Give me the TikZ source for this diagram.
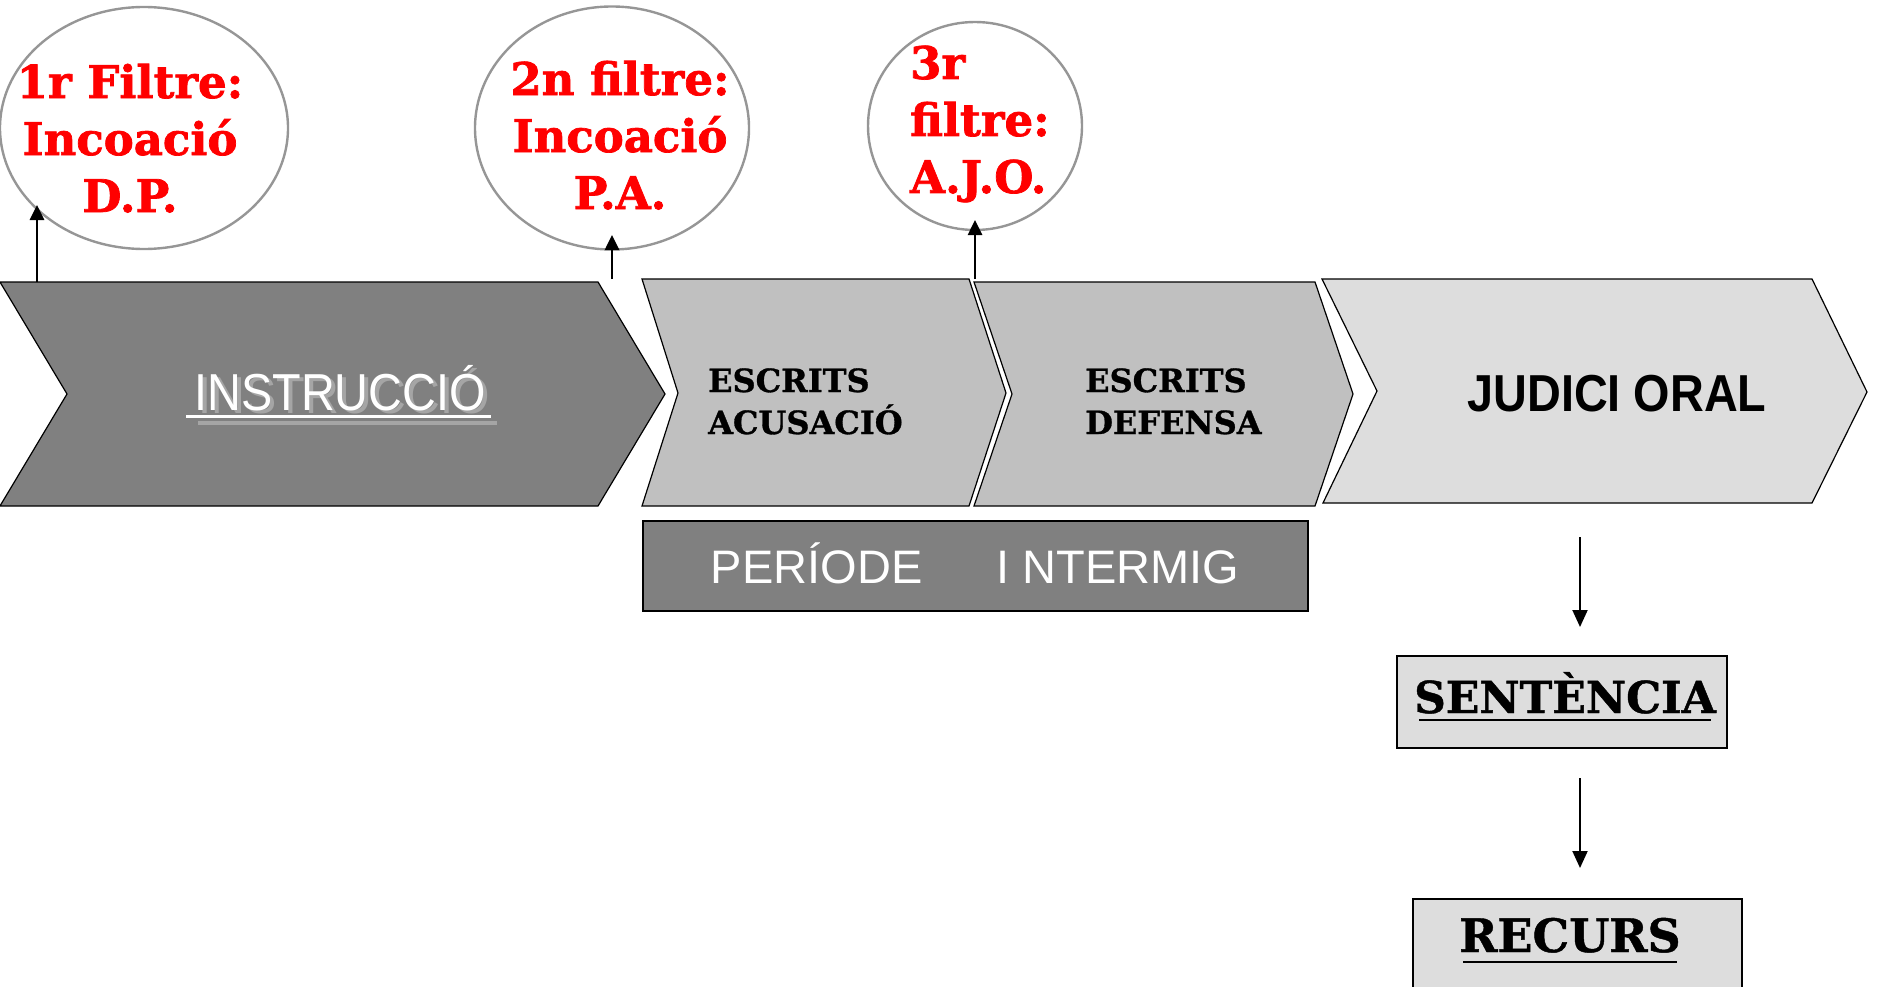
\documentclass[tikz,border=0pt]{standalone}
\usepackage{fontspec}
\usetikzlibrary{shapes.geometric,arrows.meta}
\newfontfamily\slab{DejaVu Serif}
\newfontfamily\slabh[FakeBold=1.6]{DejaVu Serif Bold}
\newfontfamily\slabm[FakeBold=1.0]{DejaVu Serif Bold}
\newfontfamily\sansc[FakeStretch=0.9]{Liberation Sans}
\newfontfamily\sansn{Liberation Sans}
\definecolor{dk}{RGB}{128,128,128}
\definecolor{md}{RGB}{192,192,192}
\definecolor{lt}{RGB}{221,221,221}
\definecolor{ell}{RGB}{150,150,150}
\definecolor{shd}{RGB}{165,165,165}
\begin{document}
\begin{tikzpicture}[x=1pt,y=-1pt,
  chev/.style={draw=black,line width=1.2pt,line join=miter},
  filt/.style={draw=ell,line width=2.4pt,ellipse,inner sep=0pt},
  redtxt/.style={text=red,font=\slabh\fontsize{45}{57}\selectfont,inner sep=0pt},
  esc/.style={text=black,font=\slabm\fontsize{32}{42}\selectfont,inner sep=0pt,align=left,anchor=base west},
  uparr/.style={-{Triangle[width=14pt,length=15pt]},line width=2.6pt},
  dnarr/.style={-{Triangle[width=15pt,length=17pt]},line width=2pt},
  boxst/.style={draw=black,line width=2pt,fill=lt},
  boxtxt/.style={text=black,font=\slabm\fontsize{44}{54}\selectfont,inner sep=0pt,anchor=base}
]
\useasboundingbox (0,0) rectangle (1878,987);

% filter ellipses
\node[filt,minimum width=288pt,minimum height=242pt] (e1) at (144,128) {};
\node[filt,minimum width=274pt,minimum height=243pt] (e2) at (612,128) {};
\node[filt,minimum width=214pt,minimum height=208pt] (e3) at (975,126) {};
\node[redtxt,align=center,anchor=base] (t1) at (130,212) {1r Filtre:\\Incoació\\D.P.};
\node[redtxt,align=center,anchor=base] (t2) at (620,209) {2n filtre:\\Incoació\\P.A.};
\node[redtxt,align=left,anchor=base west] (t3) at (910,193) {3r\\filtre:\\A.J.O.};

% chevrons
\draw[chev,fill=dk] (0,282) -- (598,282) -- (665,394) -- (598,506) -- (0,506) -- (67,394) -- cycle;
\draw[chev,fill=md] (642,279) -- (969,279) -- (1006,393) -- (969,506) -- (642,506) -- (678,393) -- cycle;
\draw[chev,fill=md] (974,282) -- (1315,282) -- (1353,394) -- (1315,506) -- (974,506) -- (1012,394) -- cycle;
\draw[chev,fill=lt] (1322,279) -- (1812,279) -- (1867,392) -- (1812,503) -- (1323,503) -- (1377,391) -- cycle;

% arrows to filters
\coordinate (a1s) at (37,282);  \coordinate (a1e) at (37,205);
\coordinate (a2s) at (612,279); \coordinate (a2e) at (612,235);
\coordinate (a3s) at (975,279); \coordinate (a3e) at (975,220);
\draw[uparr] (a1s) -- (a1e);
\draw[uparr] (a2s) -- (a2e);
\draw[uparr] (a3s) -- (a3e);

% INSTRUCCIO (with its grey shadow)
\draw[shd,line width=4pt] (198,423) -- (497,423);
\draw[white,line width=3pt] (186,416) -- (491,416);
\node[text=white,font=\sansc\fontsize{52}{60}\selectfont,inner sep=0pt,anchor=base] (instr) at (340,410)
  {\rlap{\raisebox{-3pt}[0pt][0pt]{\hspace{4pt}\textcolor{shd}{INSTRUCCIÓ}}}INSTRUCCIÓ};

% ESCRITS
\node[esc] (acus) at (708,434) {ESCRITS\\ACUSACIÓ};
\node[esc] (defe) at (1085,434) {ESCRITS\\DEFENSA};

% JUDICI ORAL
\node[text=black,font=\sansc\bfseries\fontsize{52}{60}\selectfont,inner sep=0pt,anchor=base] (judici) at (1617,411) {JUDICI ORAL};

% PERIODE INTERMIG
\node[draw=black,line width=2pt,fill=dk,minimum width=665pt,minimum height=90pt,inner sep=0pt] (periode) at (975.5,566) {};
\node[text=white,font=\sansn\fontsize{47}{54}\selectfont,inner sep=0pt,anchor=base] (pertxt) at (975,583) {PERÍODE\hspace{74pt}I NTERMIG};

% arrows down
\coordinate (d1s) at (1580,537); \coordinate (d1e) at (1580,627);
\coordinate (d2s) at (1580,778); \coordinate (d2e) at (1580,868);
\draw[dnarr] (d1s) -- (d1e);
\draw[dnarr] (d2s) -- (d2e);

% SENTENCIA
\node[boxst,minimum width=330pt,minimum height=92pt,inner sep=0pt] (sent) at (1562,702) {};
\node[boxtxt] (senttxt) at (1565,713) {SENTÈNCIA};
\draw[line width=2.6pt] (1419,720) -- (1711,720);

% RECURS
\fill[lt] (1413,899) rectangle (1742,990);
\draw[line width=2pt] (1413,990) -- (1413,899) -- (1742,899) -- (1742,990);
\node[boxtxt,font=\slabm\fontsize{46}{54}\selectfont] (rectxt) at (1570,952) {RECURS};
\draw[line width=2.6pt] (1463,962) -- (1677,962);
\end{tikzpicture}
\end{document}
